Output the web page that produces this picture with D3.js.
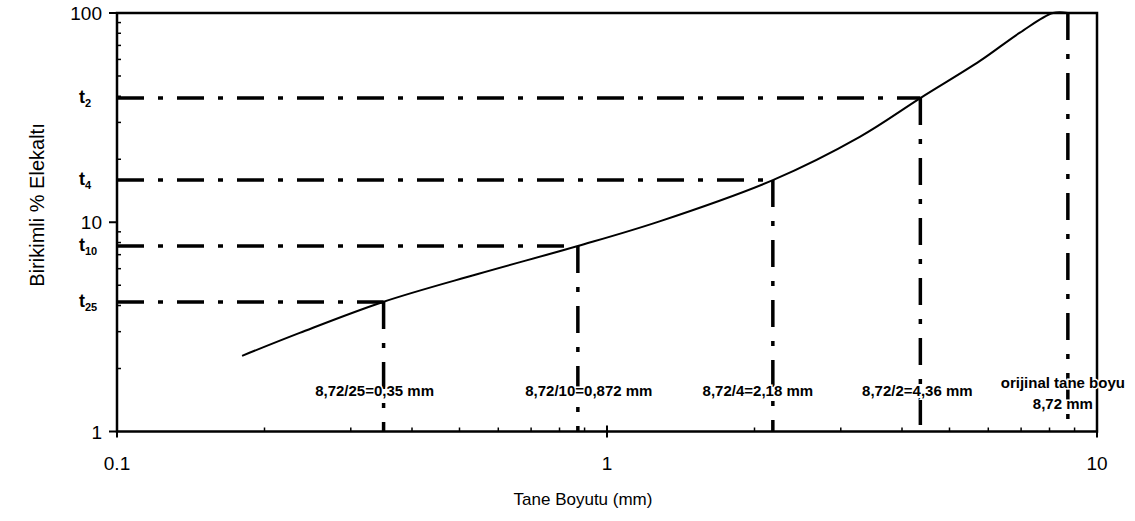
<!DOCTYPE html>
<html lang="tr">
<head>
    <meta charset="UTF-8">
    <script src="https://cdn.jsdelivr.net/npm/d3@7"></script>
    <title>Tane Boyutu</title>
    <style>
        body { margin: 0; background: white; }
        svg { display: block; font-family: "Liberation Sans", Arial, sans-serif; }
        .lbl { paint-order: stroke; stroke: white; stroke-width: 3px; }
    </style>
</head>
<body>
    <script>
        /*------------------- data ------------------------------------------*/
        // grading curve: grain size (mm) vs cumulative % passing
        const sizes   = [0.18, 0.236, 0.349, 0.545, 0.872, 1.28, 2.18, 3.28, 4.36, 5.77, 6.96, 8.13, 8.72];
        const passing = [2.30, 2.96,  4.16,  5.66,  7.7,   10.1, 15.9, 25.6, 39.2, 59.0, 80.5, 100,  100];

        // t_n reference lines (size = 8.72 / n)
        const refNames   = ["25", "10", "4", "2"];
        const refSizes   = [0.35, 0.872, 2.18, 4.36];
        const refPassing = [4.16, 7.7, 15.9, 39.2];
        const refLabels  = ["8,72/25=0,35 mm", "8,72/10=0,872 mm", "8,72/4=2,18 mm", "8,72/2=4,36 mm"];
        const labelShift = [-9, 11, -15, -3];

        const originalSize = 8.72;
        const originalLabel = ["orijinal tane boyu", "8,72 mm"];

        const xTicks = [0.1, 1, 10];
        const xTickLabels = ["0.1", "1", "10"];
        const yTicks = [1, 10, 100];

        /*------------------- setup --------------------*/
        const width = 1135, height = 521;
        const plot = { left: 117, right: 1097, top: 13, bottom: 431.5 };

        const svg = d3.select("body").append("svg")
            .attr("width", width)
            .attr("height", height);

        const x = d3.scaleLog().domain([0.1, 10]).range([plot.left, plot.right]);
        const y = d3.scaleLog().domain([1, 100]).range([plot.bottom, plot.top]);

        const dashDot = "27,14,5,14";

        // minor ticks (inside the frame)
        const minors = [];
        [0.1, 1].forEach(d => { for (let k = 2; k < 10; k++) minors.push(d * k); });
        svg.append("g").selectAll("line")
            .data(minors).enter().append("line")
            .attr("x1", d => x(d)).attr("x2", d => x(d))
            .attr("y1", plot.bottom).attr("y2", plot.bottom - 4)
            .attr("stroke", "black").attr("stroke-width", 1.5);

        const yMinors = [];
        [1, 10].forEach(d => { for (let k = 2; k < 10; k++) yMinors.push(d * k); });
        svg.append("g").selectAll("line")
            .data(yMinors).enter().append("line")
            .attr("x1", plot.left).attr("x2", plot.left + 4)
            .attr("y1", d => y(d)).attr("y2", d => y(d))
            .attr("stroke", "black").attr("stroke-width", 1.5);

        // major ticks
        svg.append("g").selectAll("line")
            .data(yTicks).enter().append("line")
            .attr("x1", plot.left - 8).attr("x2", plot.left)
            .attr("y1", d => y(d)).attr("y2", d => y(d))
            .attr("stroke", "black").attr("stroke-width", 2);
        svg.append("g").selectAll("line")
            .data(xTicks).enter().append("line")
            .attr("x1", d => x(d)).attr("x2", d => x(d))
            .attr("y1", plot.bottom - 6).attr("y2", plot.bottom + 6)
            .attr("stroke", "black").attr("stroke-width", 2);

        // frame
        svg.append("rect")
            .attr("x", plot.left).attr("y", plot.top)
            .attr("width", plot.right - plot.left)
            .attr("height", plot.bottom - plot.top)
            .attr("fill", "none")
            .attr("stroke", "black")
            .attr("stroke-width", 2.5);

        // tick labels
        svg.append("g").selectAll("text")
            .data(yTicks).enter().append("text")
            .attr("x", plot.left - 15)
            .attr("y", d => y(d) + 7)
            .attr("text-anchor", "end")
            .attr("font-size", 19)
            .text(d => d);
        svg.append("g").selectAll("text")
            .data(xTicks).enter().append("text")
            .attr("x", d => x(d))
            .attr("y", 470)
            .attr("text-anchor", "middle")
            .attr("font-size", 19)
            .text((d, i) => xTickLabels[i]);

        // t labels
        const tLab = svg.append("g").selectAll("text")
            .data(refNames).enter().append("text")
            .attr("x", 79)
            .attr("y", (d, i) => y(refPassing[i]) + 5)
            .attr("font-size", 18)
            .attr("font-weight", "bold");
        tLab.append("tspan").text("t");
        tLab.append("tspan").attr("dy", 4).attr("font-size", 11).text(d => d);

        // axis titles
        svg.append("text")
            .attr("transform", "translate(44,205) rotate(-90)")
            .attr("text-anchor", "middle")
            .attr("font-size", 20)
            .text("Birikimli % Elekaltı");
        svg.append("text")
            .attr("x", 583).attr("y", 505)
            .attr("text-anchor", "middle")
            .attr("font-size", 17)
            .text("Tane Boyutu (mm)");

        // dash-dot reference lines
        const refs = svg.append("g")
            .attr("stroke", "black")
            .attr("stroke-width", 3.5)
            .attr("stroke-dasharray", dashDot);
        refs.selectAll(".h")
            .data(refSizes).enter().append("line")
            .attr("x1", plot.left).attr("x2", d => x(d))
            .attr("y1", (d, i) => y(refPassing[i])).attr("y2", (d, i) => y(refPassing[i]));
        refs.selectAll(".v")
            .data(refSizes).enter().append("line")
            .attr("x1", d => x(d)).attr("x2", d => x(d))
            .attr("y1", (d, i) => y(refPassing[i])).attr("y2", plot.bottom);
        refs.append("line")
            .attr("x1", x(originalSize)).attr("x2", x(originalSize))
            .attr("y1", plot.top).attr("y2", plot.bottom);

        // grading curve
        const line = d3.line()
            .x((d, i) => x(sizes[i]))
            .y(d => y(d))
            .curve(d3.curveCatmullRom.alpha(0.5));
        svg.append("path")
            .attr("d", line(passing))
            .attr("fill", "none")
            .attr("stroke", "black")
            .attr("stroke-width", 2);

        // size labels
        svg.append("g").selectAll("text")
            .data(refLabels).enter().append("text")
            .attr("class", "lbl")
            .attr("x", (d, i) => x(refSizes[i]) + labelShift[i])
            .attr("y", 396)
            .attr("text-anchor", "middle")
            .attr("font-size", 15)
            .attr("font-weight", "bold")
            .text(d => d);
        svg.append("g").selectAll("text")
            .data(originalLabel).enter().append("text")
            .attr("class", "lbl")
            .attr("x", x(originalSize) - 5)
            .attr("y", (d, i) => 388 + i * 21)
            .attr("text-anchor", "middle")
            .attr("font-size", 15)
            .attr("font-weight", "bold")
            .text(d => d);
    </script>
</body>
</html>
